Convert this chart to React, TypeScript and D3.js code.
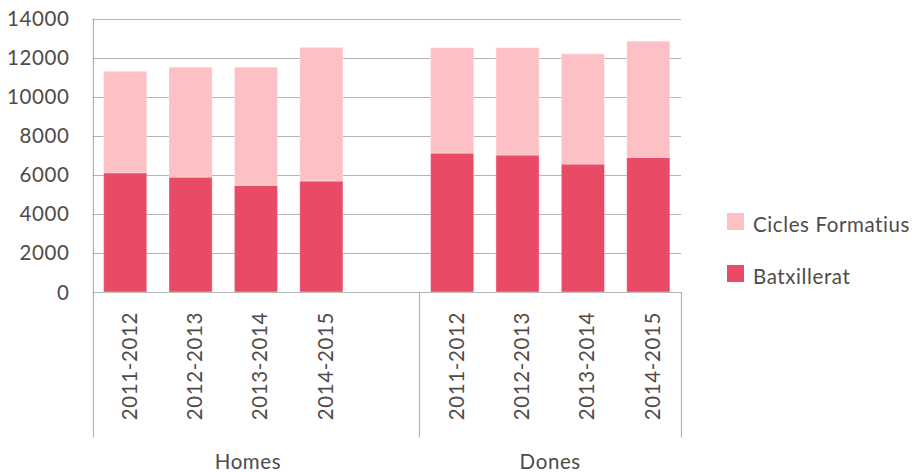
import React, { useRef, useEffect } from 'react';
import * as d3 from 'd3';

// data
const groups = ['Homes', 'Dones'];
const years = ['2011-2012', '2012-2013', '2013-2014', '2014-2015'];
const batxHomes = [6100, 5880, 5460, 5680];
const ciclesHomes = [5200, 5630, 6050, 6840];
const batxDones = [7110, 7010, 6550, 6890];
const ciclesDones = [5400, 5500, 5640, 5950];
const yTicks = [0, 2000, 4000, 6000, 8000, 10000, 12000, 14000];
const seriesNames = ['Cicles Formatius', 'Batxillerat'];

const COLORS = { cicles: '#fdc0c4', batx: '#e94a66' };
const TEXT = '#504b48';
const GRID = '#b3b3b3';
const FONT = 'Lato, "Noto Sans", sans-serif';
const FS = 20.5;
const LS = 0.6;

const App = () => {
  const ref = useRef<SVGSVGElement | null>(null);

  useEffect(() => {
    document.body.style.margin = '0';
    const width = 917;
    const height = 472;
    const margin = { top: 18.5, left: 92.5, right: 236, bottom: 180 };
    const plotRight = width - margin.right;
    const plotBottom = height - margin.bottom;

    const svg = d3.select(ref.current);
    svg.selectAll('*').remove();

    // 9 slots: Homes gets 4 years + an empty slot, Dones 4 years
    const slots: { key: string; group: string; year: string | null; batx: number; cicles: number }[] = [];
    years.forEach((y, i) => slots.push({ key: 'H' + i, group: 'Homes', year: y, batx: batxHomes[i], cicles: ciclesHomes[i] }));
    slots.push({ key: 'H-empty', group: 'Homes', year: null, batx: 0, cicles: 0 });
    years.forEach((y, i) => slots.push({ key: 'D' + i, group: 'Dones', year: y, batx: batxDones[i], cicles: ciclesDones[i] }));

    const x = d3.scaleBand()
      .domain(slots.map(d => d.key))
      .range([margin.left, plotRight])
      .paddingInner(0.34)
      .paddingOuter(0.17);

    const y = d3.scaleLinear()
      .domain([0, 14000])
      .range([plotBottom, margin.top]);

    // gridlines
    svg.append('g')
      .selectAll('line')
      .data(yTicks)
      .enter()
      .append('line')
      .attr('x1', margin.left)
      .attr('x2', plotRight)
      .attr('y1', d => Math.round(y(d)) + 0.5)
      .attr('y2', d => Math.round(y(d)) + 0.5)
      .attr('stroke', GRID)
      .attr('stroke-width', 1.2);

    // y tick labels
    svg.append('g')
      .selectAll('text')
      .data(yTicks)
      .enter()
      .append('text')
      .attr('x', 69.5)
      .attr('y', d => y(d) + 7.5)
      .attr('text-anchor', 'end')
      .attr('font-family', FONT)
      .attr('font-size', FS)
      .attr('letter-spacing', LS)
      .attr('fill', TEXT)
      .text(d => d);

    // stacked bars
    const stack = d3.stack<any>().keys(['batx', 'cicles'])(slots.filter(d => d.year));
    svg.append('g')
      .selectAll('g')
      .data(stack)
      .enter()
      .append('g')
      .attr('fill', s => COLORS[s.key as 'batx' | 'cicles'])
      .selectAll('rect')
      .data(s => s)
      .enter()
      .append('rect')
      .attr('x', d => x(d.data.key)!)
      .attr('width', x.bandwidth())
      .attr('y', d => y(d[1]))
      .attr('height', d => y(d[0]) - y(d[1]))
      .attr('stroke', '#ffffff')
      .attr('stroke-opacity', 0.35)
      .attr('stroke-width', 1);

    // axis lines
    const axisBottom = 437.5;
    const vline = (xx: number, y1: number, y2: number) =>
      svg.append('line')
        .attr('x1', xx).attr('x2', xx)
        .attr('y1', y1).attr('y2', y2)
        .attr('stroke', GRID).attr('stroke-width', 1.2);

    const step = x.step();
    const groupEdges = [margin.left, margin.left + step * 5, plotRight];
    vline(Math.round(margin.left) + 0.5, margin.top, axisBottom);
    vline(Math.round(groupEdges[1]) + 0.5, plotBottom, axisBottom);
    vline(Math.round(plotRight) + 0.5, plotBottom, axisBottom);

    // year labels (rotated)
    svg.append('g')
      .selectAll('text')
      .data(slots.filter(d => d.year))
      .enter()
      .append('text')
      .attr('transform', d => `translate(${x(d.key)! + x.bandwidth() / 2 + 11.5},312) rotate(-90)`)
      .attr('text-anchor', 'end')
      .attr('font-family', FONT)
      .attr('font-size', FS)
      .attr('letter-spacing', LS)
      .attr('fill', TEXT)
      .text(d => d.year as string);

    // group labels
    svg.append('g')
      .selectAll('text')
      .data(groups)
      .enter()
      .append('text')
      .attr('x', (d, i) => (groupEdges[i] + groupEdges[i + 1]) / 2 - (i === 0 ? 8 : 0))
      .attr('y', 469)
      .attr('text-anchor', 'middle')
      .attr('font-family', FONT)
      .attr('font-size', FS)
      .attr('letter-spacing', LS)
      .attr('fill', TEXT)
      .text(d => d);

    // legend
    const legend = svg.append('g')
      .selectAll('g')
      .data(seriesNames)
      .enter()
      .append('g')
      .attr('transform', (d, i) => `translate(727,${213 + i * 52})`);

    legend.append('rect')
      .attr('width', 17)
      .attr('height', 17)
      .attr('fill', (d, i) => (i === 0 ? COLORS.cicles : COLORS.batx));

    legend.append('text')
      .attr('x', 26)
      .attr('y', 18.5)
      .attr('font-family', FONT)
      .attr('font-size', FS)
      .attr('letter-spacing', LS)
      .attr('fill', TEXT)
      .text(d => d);
  }, []);

  return <svg ref={ref} width={917} height={472} style={{ display: 'block' }} />;
};

export default App;
